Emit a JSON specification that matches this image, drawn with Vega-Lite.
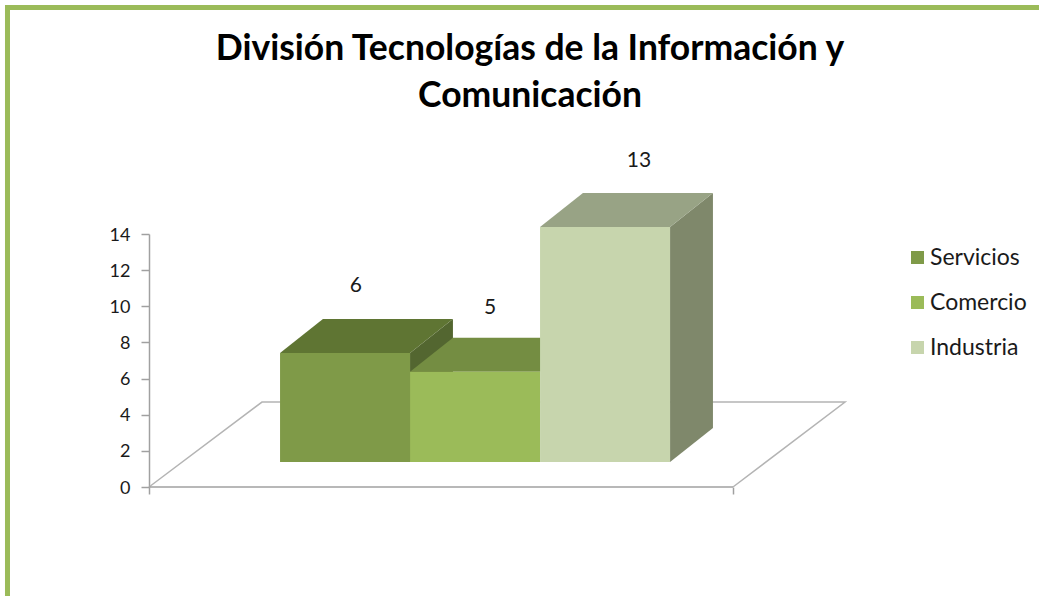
{
"$schema":"https://vega.github.io/schema/vega-lite/v6.json",
"autosize":{"type":"none"},
"padding":{"left":149,"top":234,"right":0,"bottom":109},
"width":890,"height":253,
"background":"#ffffff",
"view":{"stroke":null},
"title":{"text":["División Tecnologías de la Información y","Comunicación"],"font":"Lato","fontSize":35.5,"fontWeight":"bold","color":"#000000","anchor":"middle","frame":"group","dx":-64,"offset":-117,"lineHeight":47},
"datasets":{
"frame":[
{"paso":1,"x":6.846,"y":26.53},{"paso":2,"x":-1.0885,"y":26.53},{"paso":3,"x":-1.0885,"y":-6.03}
],
"floor":[
{"paso":1,"x":0,"y":0},{"paso":2,"x":0.869,"y":4.70},{"paso":3,"x":5.354,"y":4.70},{"paso":4,"x":4.492,"y":0}
],
"baseLine":[{"x":0,"y":0},{"x":4.492,"y":0}],
"faces":[
{"key":"Servicios lateral","x":2.008,"y":7.413,"y2":1.383},{"key":"Servicios lateral","x":2.338,"y":9.293,"y2":3.263},
{"key":"Servicios superior","x":1.008,"y":7.413,"y2":7.413},{"key":"Servicios superior","x":1.338,"y":9.293,"y2":7.413},{"key":"Servicios superior","x":2.008,"y":9.293,"y2":7.413},{"key":"Servicios superior","x":2.338,"y":9.293,"y2":9.293},
{"key":"Servicios","x":1.008,"y":7.413,"y2":1.383},{"key":"Servicios","x":2.008,"y":7.413,"y2":1.383},
{"key":"Comercio superior","x":2.008,"y":6.383,"y2":6.383},{"key":"Comercio superior","x":2.338,"y":8.263,"y2":6.383},{"key":"Comercio superior","x":3.008,"y":8.263,"y2":6.383},{"key":"Comercio superior","x":3.338,"y":8.263,"y2":8.263},
{"key":"Comercio","x":2.008,"y":6.383,"y2":1.383},{"key":"Comercio","x":3.008,"y":6.383,"y2":1.383},
{"key":"Industria lateral","x":4.008,"y":14.383,"y2":1.383},{"key":"Industria lateral","x":4.338,"y":16.263,"y2":3.263},
{"key":"Industria superior","x":3.008,"y":14.383,"y2":14.383},{"key":"Industria superior","x":3.338,"y":16.263,"y2":14.383},{"key":"Industria superior","x":4.008,"y":16.263,"y2":14.383},{"key":"Industria superior","x":4.338,"y":16.263,"y2":16.263},
{"key":"Industria","x":3.008,"y":14.383,"y2":1.383},{"key":"Industria","x":4.008,"y":14.383,"y2":1.383}
],
"labels":[
{"serie":"Servicios","valor":6,"x":1.592,"y":11.13},
{"serie":"Comercio","valor":5,"x":2.623,"y":9.93},
{"serie":"Industria","valor":13,"x":3.769,"y":18.05}
]
},
"data":{"name":"faces"},
"encoding":{
"x":{"field":"x","type":"quantitative","scale":{"domain":[0,6.846],"nice":false,"zero":false},
"axis":{"title":null,"values":[0,4.492],"labels":false,"domain":false,"grid":false,"ticks":true,"tickSize":7,"tickColor":"#a0a0a0","tickWidth":1.5}},
"y":{"field":"y","type":"quantitative","scale":{"domain":[0,14],"nice":false,"zero":false},
"axis":{"title":null,"values":[0,2,4,6,8,10,12,14],"grid":false,"domain":true,"domainColor":"#a0a0a0","domainWidth":1.5,"tickColor":"#a0a0a0","tickWidth":1.5,"tickSize":8,"labelFont":"Lato","labelFontSize":18,"labelColor":"#1a1a1a","labelPadding":11,"labelOffset":1}}
},
"layer":[
{"data":{"name":"floor"},"mark":{"type":"line","color":"#b4b4b4","strokeWidth":1.5,"clip":false},"encoding":{"order":{"field":"paso","type":"quantitative"}}},
{"data":{"name":"baseLine"},"mark":{"type":"line","color":"#a0a0a0","strokeWidth":1.5}},
{"data":{"name":"frame"},"mark":{"type":"line","color":"#9BBB59","strokeWidth":5,"clip":false,"strokeJoin":"miter","interpolate":"linear"},"encoding":{"order":{"field":"paso","type":"quantitative"}}},
{"mark":{"type":"area","clip":false,"interpolate":"linear","opacity":1},
"encoding":{
"y2":{"field":"y2"},
"color":{"field":"key","type":"nominal","scale":{
"domain":["Servicios","Comercio","Industria","Servicios lateral","Servicios superior","Comercio superior","Industria lateral","Industria superior"],
"range":["#7F9A48","#9BBB59","#C7D5AD","#536630","#5F7533","#748D42","#7F886B","#98A385"]},
"legend":{"title":null,"values":["Servicios","Comercio","Industria"],"orient":"none","legendX":757,"legendY":12,"symbolType":"square","symbolSize":169,"symbolStrokeWidth":0,"labelFont":"Lato","labelFontSize":23,"labelColor":"#1a1a1a","labelOffset":1,"rowPadding":21}}
}},
{"data":{"name":"labels"},"mark":{"type":"text","font":"Lato","fontSize":21,"color":"#1a1a1a","align":"center","baseline":"middle","clip":false},
"encoding":{"text":{"field":"valor","type":"quantitative"}}}
]
}
